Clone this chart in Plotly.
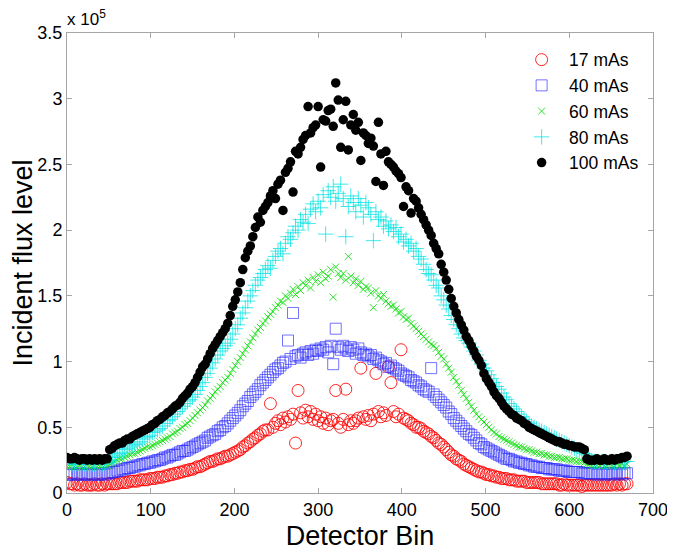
import plotly.graph_objects as go

# Detector bin positions (every 3rd bin sampled)
bins = list(range(0, 672, 3))

series_names = ["17 mAs", "40 mAs", "60 mAs", "80 mAs", "100 mAs"]

# Incident flux level, in units of 10^5
flux_17 = [
    0.08, 0.07, 0.07, 0.06, 0.07, 0.06, 0.06, 0.07, 0.06, 0.06,
    0.06, 0.07, 0.06, 0.06, 0.07, 0.06, 0.07, 0.07, 0.07, 0.07,
    0.07, 0.08, 0.08, 0.08, 0.08, 0.09, 0.09, 0.09, 0.09, 0.10,
    0.10, 0.10, 0.10, 0.11, 0.11, 0.11, 0.12, 0.12, 0.12, 0.13,
    0.13, 0.14, 0.14, 0.15, 0.15, 0.16, 0.16, 0.17, 0.17, 0.18,
    0.18, 0.19, 0.20, 0.20, 0.21, 0.22, 0.23, 0.24, 0.24, 0.25,
    0.26, 0.26, 0.27, 0.28, 0.28, 0.29, 0.30, 0.31, 0.32, 0.33,
    0.35, 0.36, 0.38, 0.39, 0.41, 0.42, 0.44, 0.45, 0.47, 0.48,
    0.48, 0.68, 0.50, 0.53, 0.55, 0.52, 0.57, 0.54, 0.58, 0.56,
    0.60, 0.38, 0.78, 0.61, 0.57, 0.63, 0.58, 0.62, 0.56, 0.60,
    0.55, 0.58, 0.53, 0.57, 0.52, 0.55, 0.56, 0.78, 0.53, 0.50,
    0.56, 0.79, 0.52, 0.55, 0.53, 0.55, 0.57, 0.95, 0.58, 0.56,
    0.59, 0.55, 0.60, 0.91, 0.62, 0.58, 0.61, 0.59, 0.96, 0.84,
    0.62, 0.58, 0.60, 1.09, 0.57, 0.56, 0.55, 0.53, 0.52, 0.50,
    0.50, 0.49, 0.47, 0.46, 0.45, 0.43, 0.42, 0.40, 0.38, 0.37,
    0.35, 0.33, 0.31, 0.29, 0.28, 0.26, 0.25, 0.24, 0.22, 0.21,
    0.20, 0.19, 0.18, 0.17, 0.16, 0.16, 0.15, 0.14, 0.14, 0.13,
    0.13, 0.12, 0.12, 0.11, 0.11, 0.11, 0.10, 0.10, 0.10, 0.09,
    0.09, 0.09, 0.09, 0.08, 0.08, 0.08, 0.08, 0.08, 0.08, 0.07,
    0.07, 0.07, 0.07, 0.07, 0.07, 0.07, 0.06, 0.06, 0.07, 0.06,
    0.06, 0.06, 0.06, 0.06, 0.06, 0.05, 0.06, 0.06, 0.06, 0.06,
    0.06, 0.06, 0.06, 0.06, 0.06, 0.06, 0.06, 0.06, 0.07, 0.06,
    0.07, 0.06, 0.07, 0.07,
]

flux_40 = [
    0.14, 0.14, 0.15, 0.14, 0.14, 0.15, 0.14, 0.14, 0.15, 0.14,
    0.14, 0.15, 0.14, 0.14, 0.15, 0.14, 0.15, 0.15, 0.16, 0.16,
    0.17, 0.17, 0.18, 0.18, 0.19, 0.19, 0.20, 0.20, 0.21, 0.21,
    0.22, 0.22, 0.23, 0.23, 0.24, 0.24, 0.25, 0.25, 0.26, 0.27,
    0.27, 0.28, 0.29, 0.29, 0.30, 0.31, 0.32, 0.32, 0.33, 0.34,
    0.35, 0.36, 0.37, 0.38, 0.39, 0.40, 0.42, 0.43, 0.44, 0.45,
    0.47, 0.48, 0.50, 0.51, 0.53, 0.55, 0.57, 0.59, 0.61, 0.63,
    0.66, 0.68, 0.70, 0.73, 0.75, 0.77, 0.79, 0.82, 0.84, 0.86,
    0.88, 0.90, 0.92, 0.94, 0.95, 0.97, 0.99, 1.00, 1.16, 1.02,
    1.37, 1.04, 1.05, 1.03, 1.06, 1.07, 1.05, 1.08, 1.06, 1.09,
    1.08, 1.10, 1.09, 1.11, 1.07, 1.12, 0.98, 1.25, 1.11, 1.09,
    1.12, 1.10, 1.08, 1.11, 1.09, 1.06, 1.10, 1.07, 1.05, 1.06,
    1.04, 1.05, 1.02, 1.03, 1.01, 1.00, 0.98, 0.99, 0.96, 0.97,
    0.95, 0.94, 0.93, 0.91, 0.90, 0.89, 0.88, 0.86, 0.85, 0.84,
    0.82, 0.81, 0.79, 0.78, 0.77, 0.95, 0.75, 0.73, 0.71, 0.69,
    0.67, 0.65, 0.62, 0.60, 0.57, 0.55, 0.53, 0.51, 0.49, 0.47,
    0.45, 0.44, 0.42, 0.40, 0.38, 0.37, 0.35, 0.34, 0.33, 0.32,
    0.31, 0.30, 0.29, 0.28, 0.27, 0.26, 0.26, 0.25, 0.24, 0.24,
    0.23, 0.23, 0.22, 0.22, 0.21, 0.21, 0.20, 0.20, 0.20, 0.19,
    0.19, 0.19, 0.18, 0.18, 0.18, 0.18, 0.17, 0.17, 0.17, 0.17,
    0.16, 0.16, 0.16, 0.16, 0.16, 0.15, 0.15, 0.15, 0.15, 0.15,
    0.15, 0.14, 0.15, 0.15, 0.14, 0.15, 0.15, 0.14, 0.15, 0.15,
    0.15, 0.14, 0.15, 0.15,
]

flux_60 = [
    0.20, 0.20, 0.21, 0.20, 0.20, 0.21, 0.20, 0.20, 0.21, 0.20,
    0.20, 0.21, 0.20, 0.20, 0.21, 0.21, 0.21, 0.22, 0.23, 0.24,
    0.25, 0.26, 0.26, 0.27, 0.28, 0.29, 0.30, 0.30, 0.31, 0.32,
    0.33, 0.34, 0.35, 0.35, 0.36, 0.37, 0.38, 0.39, 0.40, 0.41,
    0.42, 0.43, 0.45, 0.46, 0.47, 0.49, 0.50, 0.52, 0.53, 0.55,
    0.57, 0.59, 0.61, 0.63, 0.65, 0.67, 0.70, 0.72, 0.74, 0.77,
    0.79, 0.81, 0.84, 0.86, 0.88, 0.91, 0.94, 0.97, 1.00, 1.03,
    1.06, 1.09, 1.12, 1.15, 1.18, 1.21, 1.24, 1.26, 1.29, 1.31,
    1.34, 1.36, 1.38, 1.41, 1.43, 1.46, 1.45, 1.50, 1.48, 1.52,
    1.55, 1.51, 1.57, 1.54, 1.60, 1.58, 1.62, 1.56, 1.64, 1.61,
    1.66, 1.60, 1.68, 1.63, 1.65, 1.70, 1.49, 1.72, 1.67, 1.64,
    1.67, 1.62, 1.80, 1.65, 1.60, 1.63, 1.58, 1.61, 1.55, 1.57,
    1.56, 1.52, 1.41, 1.54, 1.50, 1.48, 1.51, 1.46, 1.44, 1.42,
    1.43, 1.40, 1.37, 1.38, 1.34, 1.32, 1.33, 1.29, 1.27, 1.25,
    1.23, 1.21, 1.19, 1.17, 1.15, 1.13, 1.12, 1.10, 1.07, 1.04,
    1.02, 0.98, 0.95, 0.92, 0.88, 0.85, 0.82, 0.78, 0.75, 0.72,
    0.69, 0.66, 0.63, 0.60, 0.58, 0.56, 0.54, 0.52, 0.50, 0.48,
    0.46, 0.45, 0.43, 0.42, 0.41, 0.40, 0.39, 0.38, 0.37, 0.36,
    0.35, 0.35, 0.34, 0.33, 0.33, 0.32, 0.31, 0.31, 0.30, 0.30,
    0.29, 0.29, 0.28, 0.28, 0.27, 0.27, 0.27, 0.26, 0.26, 0.26,
    0.25, 0.25, 0.25, 0.24, 0.24, 0.24, 0.23, 0.22, 0.22, 0.21,
    0.21, 0.21, 0.21, 0.22, 0.21, 0.21, 0.22, 0.21, 0.21, 0.22,
    0.21, 0.22, 0.21, 0.22,
]

flux_80 = [
    0.23, 0.22, 0.22, 0.23, 0.22, 0.22, 0.23, 0.22, 0.22, 0.23,
    0.22, 0.22, 0.23, 0.22, 0.22, 0.23, 0.23, 0.25, 0.27, 0.28,
    0.29, 0.30, 0.31, 0.33, 0.34, 0.35, 0.36, 0.37, 0.38, 0.39,
    0.41, 0.42, 0.43, 0.44, 0.46, 0.47, 0.48, 0.49, 0.51, 0.53,
    0.55, 0.56, 0.58, 0.60, 0.62, 0.64, 0.66, 0.68, 0.70, 0.71,
    0.73, 0.75, 0.78, 0.81, 0.84, 0.88, 0.91, 0.95, 0.99, 1.02,
    1.05, 1.08, 1.10, 1.12, 1.14, 1.17, 1.21, 1.25, 1.28, 1.33,
    1.37, 1.41, 1.46, 1.50, 1.54, 1.58, 1.62, 1.64, 1.67, 1.70,
    1.73, 1.71, 1.77, 1.80, 1.84, 1.86, 1.82, 1.90, 1.95, 1.93,
    1.98, 2.03, 2.00, 2.08, 2.06, 2.12, 2.05, 2.16, 2.20, 2.14,
    2.22, 2.17, 2.27, 1.97, 2.30, 2.25, 2.33, 2.22, 2.28, 2.35,
    2.24, 1.95, 2.18, 2.26, 2.21, 2.14, 2.24, 2.19, 2.10, 2.21,
    2.17, 2.12, 1.92, 2.14, 2.08, 2.10, 2.03, 2.07, 2.01, 2.04,
    1.99, 2.02, 1.95, 1.97, 1.91, 1.93, 1.88, 1.90, 1.84, 1.86,
    1.80, 1.78, 1.74, 1.70, 1.67, 1.66, 1.62, 1.58, 1.56, 1.50,
    1.47, 1.43, 1.40, 1.35, 1.32, 1.28, 1.25, 1.21, 1.18, 1.16,
    1.14, 1.11, 1.08, 1.05, 1.01, 0.98, 0.95, 0.93, 0.90, 0.87,
    0.84, 0.81, 0.79, 0.76, 0.73, 0.71, 0.68, 0.66, 0.64, 0.62,
    0.60, 0.58, 0.56, 0.54, 0.53, 0.51, 0.50, 0.49, 0.48, 0.47,
    0.46, 0.45, 0.44, 0.43, 0.42, 0.41, 0.40, 0.39, 0.38, 0.37,
    0.36, 0.35, 0.34, 0.33, 0.32, 0.31, 0.30, 0.29, 0.25, 0.24,
    0.24, 0.24, 0.23, 0.24, 0.24, 0.23, 0.24, 0.24, 0.23, 0.24,
    0.24, 0.23, 0.24, 0.24,
]

flux_100 = [
    0.27, 0.26, 0.26, 0.27, 0.26, 0.25, 0.26, 0.26, 0.25, 0.26,
    0.25, 0.26, 0.25, 0.26, 0.25, 0.26, 0.26, 0.33, 0.34, 0.36,
    0.37, 0.38, 0.38, 0.40, 0.41, 0.41, 0.43, 0.44, 0.45, 0.46,
    0.47, 0.48, 0.49, 0.50, 0.52, 0.53, 0.55, 0.56, 0.58, 0.59,
    0.61, 0.62, 0.64, 0.66, 0.67, 0.69, 0.72, 0.74, 0.76, 0.79,
    0.81, 0.84, 0.88, 0.92, 0.96, 0.98, 1.02, 1.06, 1.10, 1.13,
    1.16, 1.19, 1.22, 1.25, 1.29, 1.35, 1.42, 1.47, 1.53, 1.60,
    1.70, 1.79, 1.84, 1.88, 1.95, 2.02, 2.10, 2.06, 2.15, 2.18,
    2.21, 2.26, 2.30, 2.24, 2.35, 2.38, 2.15, 2.44, 2.47, 2.52,
    2.29, 2.60, 2.58, 2.63, 2.69, 2.72, 2.94, 2.74, 2.78, 2.80,
    2.94, 2.48, 2.84, 2.83, 2.91, 2.92, 2.79, 3.12, 2.99, 2.63,
    2.84, 2.98, 2.61, 2.80, 2.88, 2.76, 2.82, 2.53, 2.74, 2.72,
    2.66, 2.70, 2.64, 2.37, 2.82, 2.58, 2.34, 2.60, 2.52, 2.50,
    2.48, 2.45, 2.43, 2.40, 2.18, 2.33, 2.30, 2.13, 2.24, 2.22,
    2.17, 2.12, 2.08, 2.04, 2.00, 1.96, 1.90, 1.86, 1.82, 1.74,
    1.68, 1.62, 1.55, 1.48, 1.42, 1.37, 1.32, 1.28, 1.24, 1.19,
    1.16, 1.12, 1.08, 1.04, 1.01, 0.97, 0.91, 0.87, 0.84, 0.81,
    0.77, 0.74, 0.72, 0.69, 0.66, 0.64, 0.62, 0.60, 0.59, 0.57,
    0.56, 0.55, 0.53, 0.52, 0.50, 0.49, 0.48, 0.47, 0.46, 0.45,
    0.44, 0.43, 0.42, 0.41, 0.40, 0.39, 0.39, 0.38, 0.37, 0.37,
    0.36, 0.36, 0.35, 0.35, 0.35, 0.34, 0.33, 0.26, 0.25, 0.25,
    0.25, 0.26, 0.25, 0.25, 0.26, 0.25, 0.25, 0.26, 0.25, 0.26,
    0.26, 0.27, 0.27, 0.28,
]

y_tick_vals = [0, 0.5, 1, 1.5, 2, 2.5, 3, 3.5]
y_tick_text = ["0", "0.5", "1", "1.5", "2", "2.5", "3", "3.5"]
x_tick_vals = [0, 100, 200, 300, 400, 500, 600, 700]

FONT = "Liberation Sans, Arial, sans-serif"
AXIS_GRAY = "#a6a6a6"

styles = [
    dict(symbol="circle-open", size=12, color="rgba(255,0,0,0.85)", line=dict(width=1, color="rgba(255,0,0,0.85)")),
    dict(symbol="square-open", size=11, color="rgba(40,40,255,0.65)", line=dict(width=1, color="rgba(40,40,255,0.65)")),
    dict(symbol="x-thin-open", size=7, color="rgba(0,220,0,0.8)", line=dict(width=1, color="rgba(0,220,0,0.8)")),
    dict(symbol="cross-thin-open", size=11, color="rgba(0,225,225,0.75)", line=dict(width=1, color="rgba(0,225,225,0.75)")),
    dict(symbol="circle", size=9.5, color="#000000", line=dict(width=0)),
]

fig = go.Figure()
for name, vals, st in zip(series_names, [flux_17, flux_40, flux_60, flux_80, flux_100], styles):
    fig.add_trace(go.Scatter(x=bins, y=vals, mode="markers", name=name, marker=st))

# The page body has an 8px margin, so the figure is sized/offset to compensate.
fig.update_layout(
    width=667, height=543,
    template="none",
    paper_bgcolor="white", plot_bgcolor="white",
    margin=dict(l=59, r=22, t=25, b=58),
    font=dict(family=FONT, size=18, color="black"),
    showlegend=True,
    legend=dict(x=0.763, y=0.981, xanchor="left", yanchor="top",
                bgcolor="rgba(0,0,0,0)", borderwidth=0,
                font=dict(family=FONT, size=17.5, color="black"),
                tracegroupgap=0, itemsizing="trace", itemwidth=45),
    xaxis=dict(range=[0, 700], tickvals=x_tick_vals, ticks="inside", ticklen=5,
               tickcolor=AXIS_GRAY, showline=True, linecolor=AXIS_GRAY, linewidth=1,
               mirror="ticks", showgrid=False, zeroline=False, automargin=False,
               tickfont=dict(family=FONT, size=18),
               title=dict(text="Detector Bin", font=dict(family=FONT, size=27), standoff=11)),
    yaxis=dict(range=[0, 3.5], tickvals=y_tick_vals, ticktext=y_tick_text, ticks="inside",
               ticklen=5, tickcolor=AXIS_GRAY, showline=True, linecolor=AXIS_GRAY, linewidth=1,
               mirror="ticks", showgrid=False, zeroline=False, automargin=False,
               tickfont=dict(family=FONT, size=18),
               title=dict(text="Incident flux level", font=dict(family=FONT, size=27), standoff=6)),
    annotations=[dict(x=0, y=1, xref="paper", yref="paper", xanchor="left", yanchor="bottom",
                      text="x 10<sup>5</sup>", showarrow=False, yshift=2, xshift=-2,
                      font=dict(family=FONT, size=17, color="black"))],
)

fig.write_html("out.html")
